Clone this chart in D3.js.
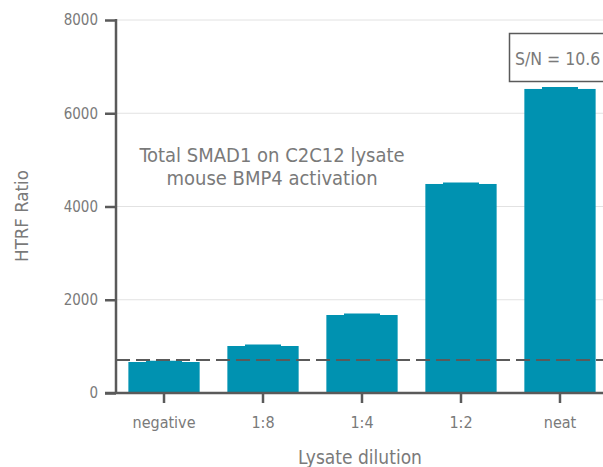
<!DOCTYPE html>
<html>
<head>
<meta charset="utf-8">
<script src="https://cdn.jsdelivr.net/npm/d3@7"></script>
<style>
  html, body { margin: 0; padding: 0; background: #fff; }
  svg { display: block; }
  text { font-family: "Liberation Sans Narrow", "DejaVu Sans Condensed", "Roboto", sans-serif; fill: #7a7a7a; }
</style>
</head>
<body>
<svg id="chart" width="603" height="467"></svg>
<script>
// Lysate dilution series, HTRF ratio (mean and upper error)
const categories = ["negative", "1:8", "1:4", "1:2", "neat"];
const meanValues = [665, 1008, 1673, 4483, 6521];
const errorValues = [15, 22, 20, 22, 30];
const yTicks = [0, 2000, 4000, 6000, 8000];
const cutoff = 708;
const titleLines = ["Total SMAD1 on C2C12 lysate", "mouse BMP4 activation"];
const snLabel = "S/N = 10.6";

const svg = d3.select("#chart");
const axisX = 116, axisY = 393, topY = 20;

const y = d3.scaleLinear().domain([0, 8000]).range([axisY, topY]);
const x = d3.scaleBand().domain(categories).range([axisX, 608])
  .paddingInner(0.28).paddingOuter(0.125);

const barColor = "#0092b1";
const axisColor = "#5a5a5a";

// gridlines
svg.append("g").selectAll("line").data(yTicks.filter(d => d > 0)).join("line")
  .attr("x1", axisX).attr("x2", 603)
  .attr("y1", d => y(d)).attr("y2", d => y(d))
  .attr("stroke", "#e2e2e2").attr("stroke-width", 1);

// bars
svg.append("g").selectAll("rect").data(categories).join("rect")
  .attr("x", d => x(d)).attr("width", x.bandwidth())
  .attr("y", (d, i) => y(meanValues[i]))
  .attr("height", (d, i) => axisY - y(meanValues[i]))
  .attr("fill", barColor);

// error bars
const eb = svg.append("g");
categories.forEach((c, i) => {
  const cx = x(c) + x.bandwidth() / 2;
  const top = y(meanValues[i] + errorValues[i]);
  eb.append("line").attr("x1", cx).attr("x2", cx)
    .attr("y1", y(meanValues[i])).attr("y2", top)
    .attr("stroke", barColor).attr("stroke-width", 2);
  eb.append("line").attr("x1", cx - 18).attr("x2", cx + 18)
    .attr("y1", top + 0.5).attr("y2", top + 0.5)
    .attr("stroke", barColor).attr("stroke-width", 2);
});

// cutoff dashed line
svg.append("line")
  .attr("x1", axisX).attr("x2", 603)
  .attr("y1", y(cutoff)).attr("y2", y(cutoff))
  .attr("stroke", axisColor).attr("stroke-width", 2)
  .attr("stroke-dasharray", "14,6");

// y axis
const yAxis = svg.append("g").attr("transform", `translate(${axisX},0)`)
  .call(d3.axisLeft(y).tickValues(yTicks).tickSize(11).tickPadding(7).tickFormat(d3.format("d")));
yAxis.select(".domain").attr("stroke", axisColor).attr("stroke-width", 2.5)
  .attr("d", `M0,${topY - 1}V${axisY}`);
yAxis.selectAll(".tick line").attr("stroke", axisColor).attr("stroke-width", 2.5);
yAxis.selectAll(".tick text").attr("fill", "#7a7a7a").style("font-size", "15px")
  .attr("font-family", null);

// x axis
const xAxis = svg.append("g").attr("transform", `translate(0,${axisY})`)
  .call(d3.axisBottom(x).tickSize(10).tickPadding(14));
xAxis.select(".domain").attr("stroke", axisColor).attr("stroke-width", 2.5)
  .attr("d", `M${axisX - 11},0H603`);
xAxis.selectAll(".tick line").attr("stroke", axisColor).attr("stroke-width", 2.5);
xAxis.selectAll(".tick text").attr("fill", "#7a7a7a").style("font-size", "16px")
  .attr("font-family", null);

// axis titles
svg.append("text").attr("transform", "translate(28,216) rotate(-90)")
  .attr("text-anchor", "middle").style("font-size", "18.5px").text("HTRF Ratio");
svg.append("text").attr("x", 360).attr("y", 464)
  .attr("text-anchor", "middle").style("font-size", "19px").text("Lysate dilution");

// annotation
svg.append("g").selectAll("text").data(titleLines).join("text")
  .attr("x", 272).attr("y", (d, i) => 162 + i * 23)
  .attr("text-anchor", "middle").style("font-size", "20px").text(d => d);

// S/N box
svg.append("rect").attr("x", 509.5).attr("y", 33.5).attr("width", 110).attr("height", 48)
  .attr("fill", "#fff").attr("stroke", axisColor).attr("stroke-width", 1.5);
svg.append("text").attr("x", 515).attr("y", 65).style("font-size", "17.5px").text(snLabel);
</script>
</body>
</html>
